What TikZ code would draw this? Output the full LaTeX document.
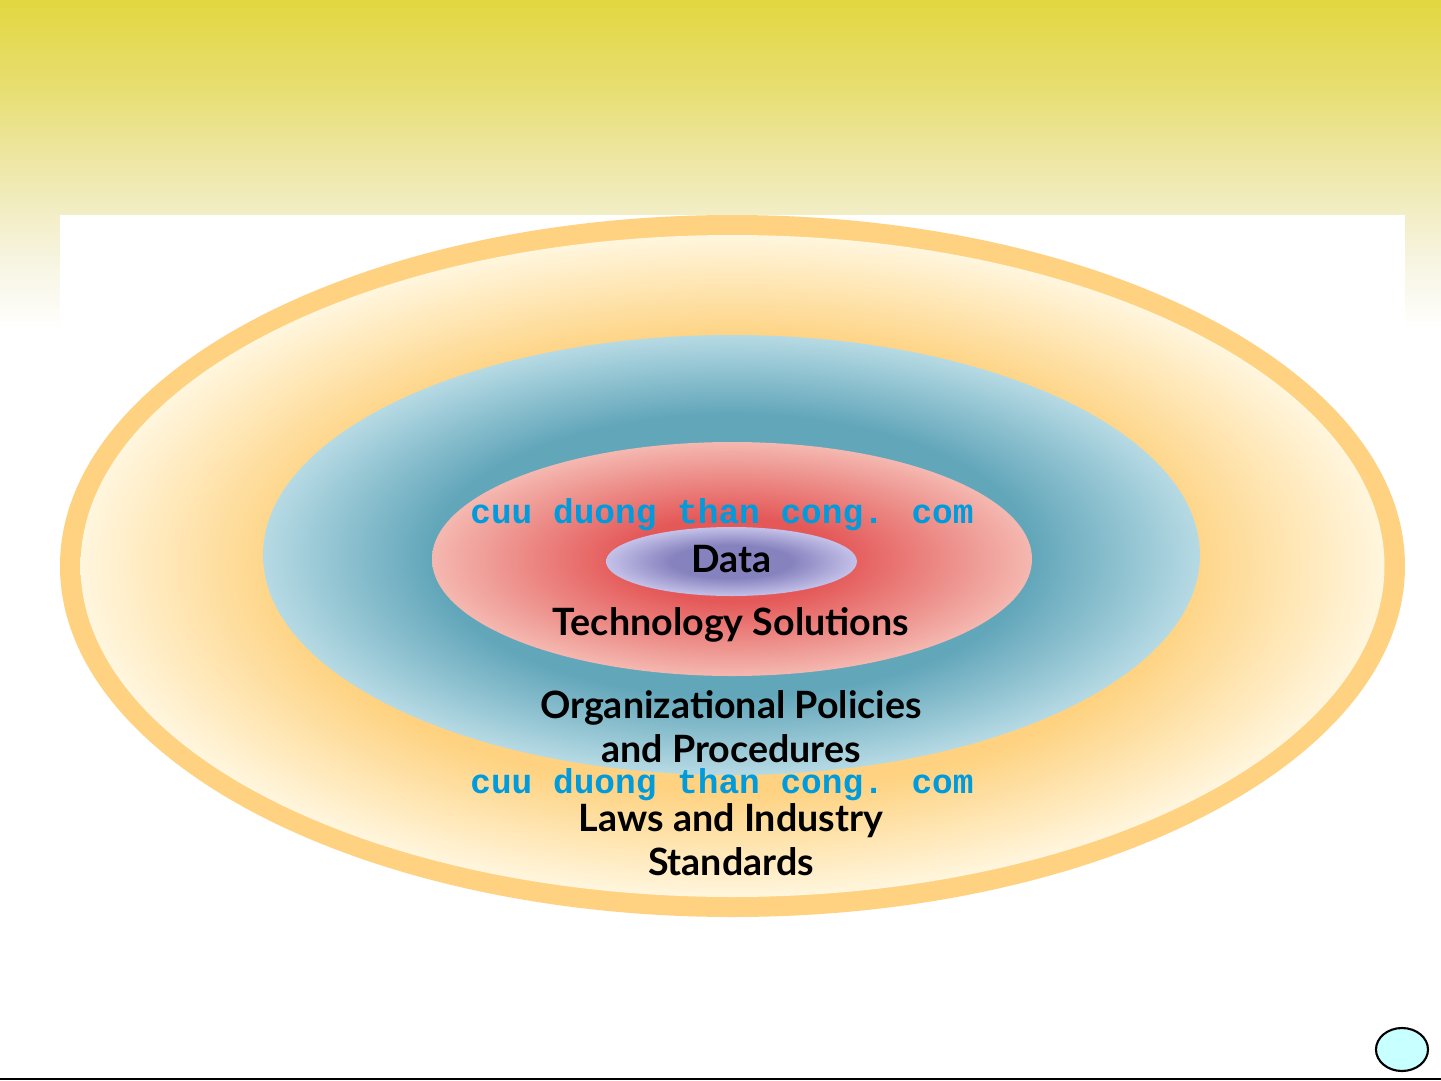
\documentclass[tikz,border=0pt]{standalone}
\usepackage{fontspec}
\setmainfont{Lato}
\newfontfamily\markfont{Liberation Mono}

\definecolor{bandyellow}{RGB}{226,215,64}
\definecolor{bandhigh}{RGB}{231,222,112}
\definecolor{bandmid}{RGB}{238,231,168}
\definecolor{bandlow}{RGB}{246,243,220}
\definecolor{ringorange}{RGB}{254,210,128}
\definecolor{creamedge}{RGB}{255,246,222}
\definecolor{tealdark}{RGB}{98,166,186}
\definecolor{teallight}{RGB}{182,218,228}
\definecolor{reddeep}{RGB}{228,88,88}
\definecolor{redpale}{RGB}{244,184,176}
\definecolor{violetdeep}{RGB}{134,130,190}
\definecolor{violetpale}{RGB}{196,193,233}
\definecolor{markblue}{RGB}{0,155,220}
\definecolor{pagedot}{RGB}{200,255,255}

% radial shadings: 25bp is the edge of the shaded ellipse
\pgfdeclareradialshading{lawshade}{\pgfpoint{0bp}{0bp}}{color(0bp)=(ringorange); color(17bp)=(ringorange); color(25bp)=(creamedge); color(50bp)=(creamedge)}
\pgfdeclareradialshading{policyshade}{\pgfpoint{0bp}{0bp}}{color(0bp)=(tealdark); color(16bp)=(tealdark); color(25bp)=(teallight); color(50bp)=(teallight)}
\pgfdeclareradialshading{techshade}{\pgfpoint{0bp}{0bp}}{color(0bp)=(reddeep); color(9bp)=(reddeep); color(25bp)=(redpale); color(50bp)=(redpale)}
\pgfdeclareradialshading{datashade}{\pgfpoint{0bp}{0bp}}{color(0bp)=(violetdeep); color(12bp)=(violetdeep); color(25bp)=(violetpale); color(50bp)=(violetpale)}
\pgfdeclareverticalshading{bandshade}{100bp}{color(0bp)=(white); color(25bp)=(white); color(37bp)=(bandlow); color(50bp)=(bandmid); color(62bp)=(bandhigh); color(75bp)=(bandyellow); color(100bp)=(bandyellow)}

\tikzset{
  layerlabel/.style={font=\bfseries\fontsize{10.7}{12.4}\selectfont, align=center, anchor=base, inner sep=0pt},
  watermark/.style={font=\markfont\bfseries\fontsize{9.8}{12}\selectfont, text=markblue, anchor=base, inner sep=0pt}
}

\begin{document}
\begin{tikzpicture}[x=0.01cm, y=-0.01cm]
  \useasboundingbox (0,0) rectangle (1441,1081);
  \fill[white] (0,0) rectangle (1441,1081);
  \shade[shading=bandshade] (0,0) rectangle (1441,330);
  \fill[white] (60,215) rectangle (1405,1000);

  % layers, outside in
  \fill[ringorange] (732.5,566) ellipse (672.5 and 351);
  \shade[shading=lawshade] (732.5,566) ellipse (652 and 331);
  \shade[shading=policyshade] (731.5,555) ellipse (468.5 and 220);
  \shade[shading=techshade] (732,559) ellipse (300 and 117);
  \shade[shading=datashade] (731.5,561.5) ellipse (125.5 and 34.5);

  % labels (base = last line)
  \node[layerlabel] (data) at (731.5,572) {Data};
  \node[layerlabel] (tech) at (731,635) {Technology Solutions};
  \node[layerlabel] (policy) at (731,762) {Organizational Policies\\and Procedures};
  \node[layerlabel] (laws) at (731,875) {Laws and Industry\\Standards};

  \node[watermark] (markA) at (722,523) {cuu duong than cong. com};
  \node[watermark] (markB) at (722,793) {cuu duong than cong. com};

  \draw[line width=0.6pt, fill=pagedot] (1402,1049.5) ellipse (26 and 21.5);
  \draw[line width=0.8pt] (0,1079) -- (1441,1079);
\end{tikzpicture}
\end{document}
